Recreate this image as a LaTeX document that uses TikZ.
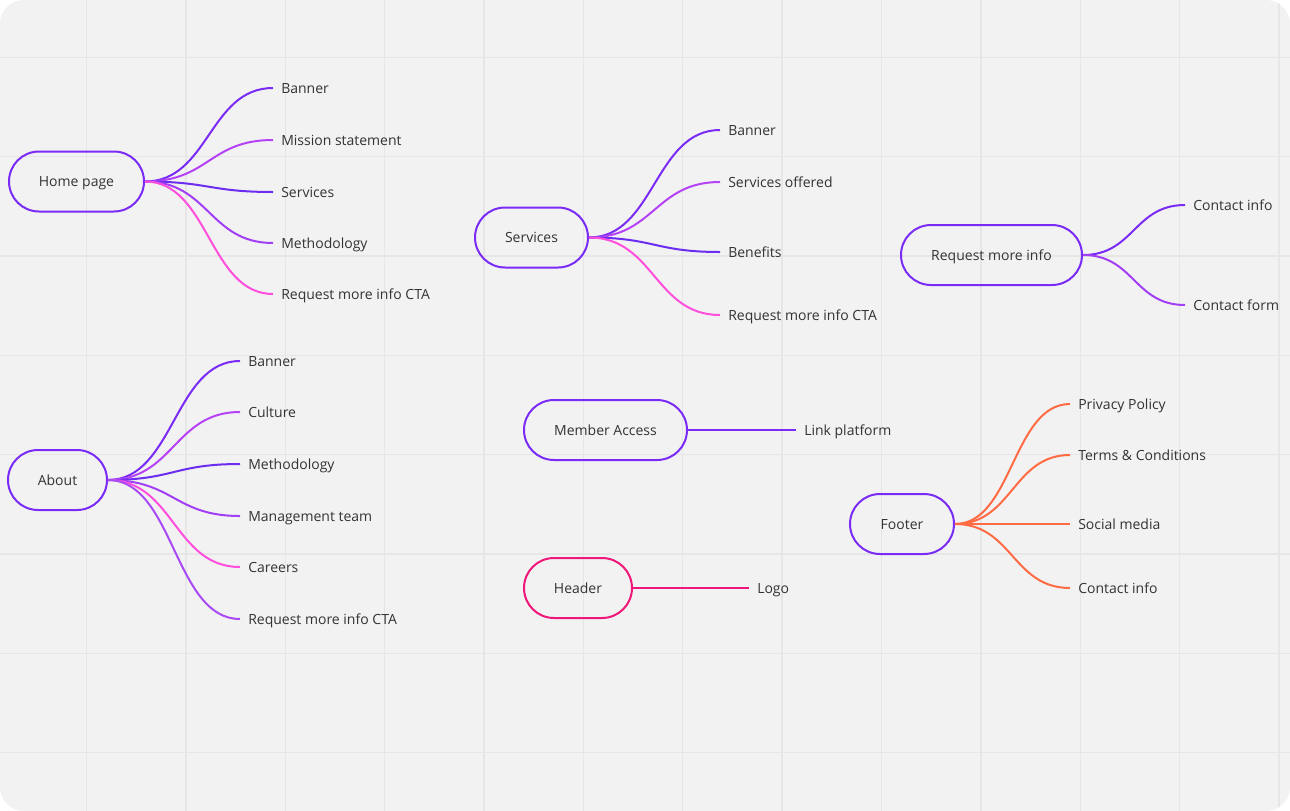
\documentclass[tikz,border=0pt]{standalone}
\usepackage{fontspec}
\setmainfont{Open Sans}
\usetikzlibrary{calc}
\definecolor{bgc}{HTML}{F2F2F2}
\definecolor{gridc}{HTML}{E6E6E6}
\definecolor{txt}{HTML}{333333}
\definecolor{violet}{HTML}{7A2BF5}
\definecolor{orchid}{HTML}{B543F5}
\definecolor{blueviolet}{HTML}{6C2DF0}
\definecolor{purp}{HTML}{A23FF5}
\definecolor{pinkc}{HTML}{FF4FDC}
\definecolor{lilac}{HTML}{A94AF5}
\definecolor{hdr}{HTML}{F0177A}
\definecolor{coral}{HTML}{FF6B45}
\tikzset{
  x=0.75pt, y=-0.75pt,
  every node/.style={font=\fontsize{10.5pt}{12.5pt}\selectfont, text=txt,
    text height=9.1pt, text depth=0.9pt},
  root/.style={draw=violet, line width=1.5pt, rectangle, rounded corners=22.5pt,
    minimum height=45pt, inner sep=0pt, align=center},
  leaf/.style={anchor=west, inner xsep=6pt, inner ysep=2pt},
  branch/.style={line width=1.5pt, to path={let \p1=(\tikztostart), \p2=(\tikztotarget) in
     .. controls ({0.5*(\x1+\x2)},\y1) and ({0.5*(\x1+\x2)},\y2) .. (\tikztotarget)}},
  gridline/.style={draw=gridc, line width=1pt}
}
\begin{document}
\begin{tikzpicture}
% canvas
\fill[white] (0,0) rectangle (1290,811);
\useasboundingbox (0,0) rectangle (1290,811);
\fill[bgc, rounded corners=18pt] (0,0) rectangle (1290,811);
\begin{scope}
  \clip[rounded corners=18pt] (0,0) rectangle (1290,811);
  \foreach \i in {0,...,12} { \draw[gridline] ({86.7+99.35*\i},0) -- ({86.7+99.35*\i},811); }
  \foreach \j in {0,...,7} { \draw[gridline] (0,{57.3+99.35*\j}) -- (1290,{57.3+99.35*\j}); }
\end{scope}

% Home page
\node[root, minimum width=101.25pt] (home) at (76.5,181.5) {Home page};
\node[leaf] (h1) at (273,88) {Banner};
\node[leaf] (h2) at (273,140) {Mission statement};
\node[leaf] (h3) at (273,192) {Services};
\node[leaf] (h4) at (273,243) {Methodology};
\node[leaf] (h5) at (273,294) {Request more info CTA};
\draw[branch, violet] (home.east) to (h1.west);
\draw[branch, orchid] (home.east) to (h2.west);
\draw[branch, blueviolet] (home.east) to (h3.west);
\draw[branch, purp] (home.east) to (h4.west);
\draw[branch, pinkc] (home.east) to (h5.west);

% Services
\node[root, minimum width=84.75pt] (serv) at (531.5,237.5) {Services};
\node[leaf] (s1) at (720,130) {Banner};
\node[leaf] (s2) at (720,182) {Services offered};
\node[leaf] (s3) at (720,252) {Benefits};
\node[leaf] (s4) at (720,315) {Request more info CTA};
\draw[branch, violet] (serv.east) to (s1.west);
\draw[branch, orchid] (serv.east) to (s2.west);
\draw[branch, blueviolet] (serv.east) to (s3.west);
\draw[branch, pinkc] (serv.east) to (s4.west);

% Request more info
\node[root, minimum width=135.75pt] (req) at (991.5,255) {Request more info};
\node[leaf] (r1) at (1185,205) {Contact info};
\node[leaf] (r2) at (1185,305) {Contact form};
\draw[branch, violet] (req.east) to (r1.west);
\draw[branch, purp] (req.east) to (r2.west);

% About
\node[root, minimum width=74.25pt] (about) at (57.5,480) {About};
\node[leaf] (a1) at (240,361) {Banner};
\node[leaf] (a2) at (240,412) {Culture};
\node[leaf] (a3) at (240,464) {Methodology};
\node[leaf] (a4) at (240,516) {Management team};
\node[leaf] (a5) at (240,567) {Careers};
\node[leaf] (a6) at (240,619) {Request more info CTA};
\draw[branch, violet] (about.east) to (a1.west);
\draw[branch, orchid] (about.east) to (a2.west);
\draw[branch, blueviolet] (about.east) to (a3.west);
\draw[branch, purp] (about.east) to (a4.west);
\draw[branch, pinkc] (about.east) to (a5.west);
\draw[branch, lilac] (about.east) to (a6.west);

% Member Access
\node[root, minimum width=122.25pt] (mem) at (605.5,430) {Member Access};
\node[leaf] (m1) at (796,430) {Link platform};
\draw[branch, violet] (mem.east) to (m1.west);

% Header
\node[root, draw=hdr, minimum width=81pt] (hdr) at (578,588) {Header};
\node[leaf] (hd1) at (749,588) {Logo};
\draw[branch, hdr] (hdr.east) to (hd1.west);

% Footer
\node[root, minimum width=78pt] (foot) at (902,524) {Footer};
\node[leaf] (f1) at (1070,404) {Privacy Policy};
\node[leaf] (f2) at (1070,455) {Terms \& Conditions};
\node[leaf] (f3) at (1070,524) {Social media};
\node[leaf] (f4) at (1070,588) {Contact info};
\draw[branch, coral] (foot.east) to (f1.west);
\draw[branch, coral] (foot.east) to (f2.west);
\draw[branch, coral] (foot.east) to (f3.west);
\draw[branch, coral] (foot.east) to (f4.west);
\end{tikzpicture}
\end{document}
